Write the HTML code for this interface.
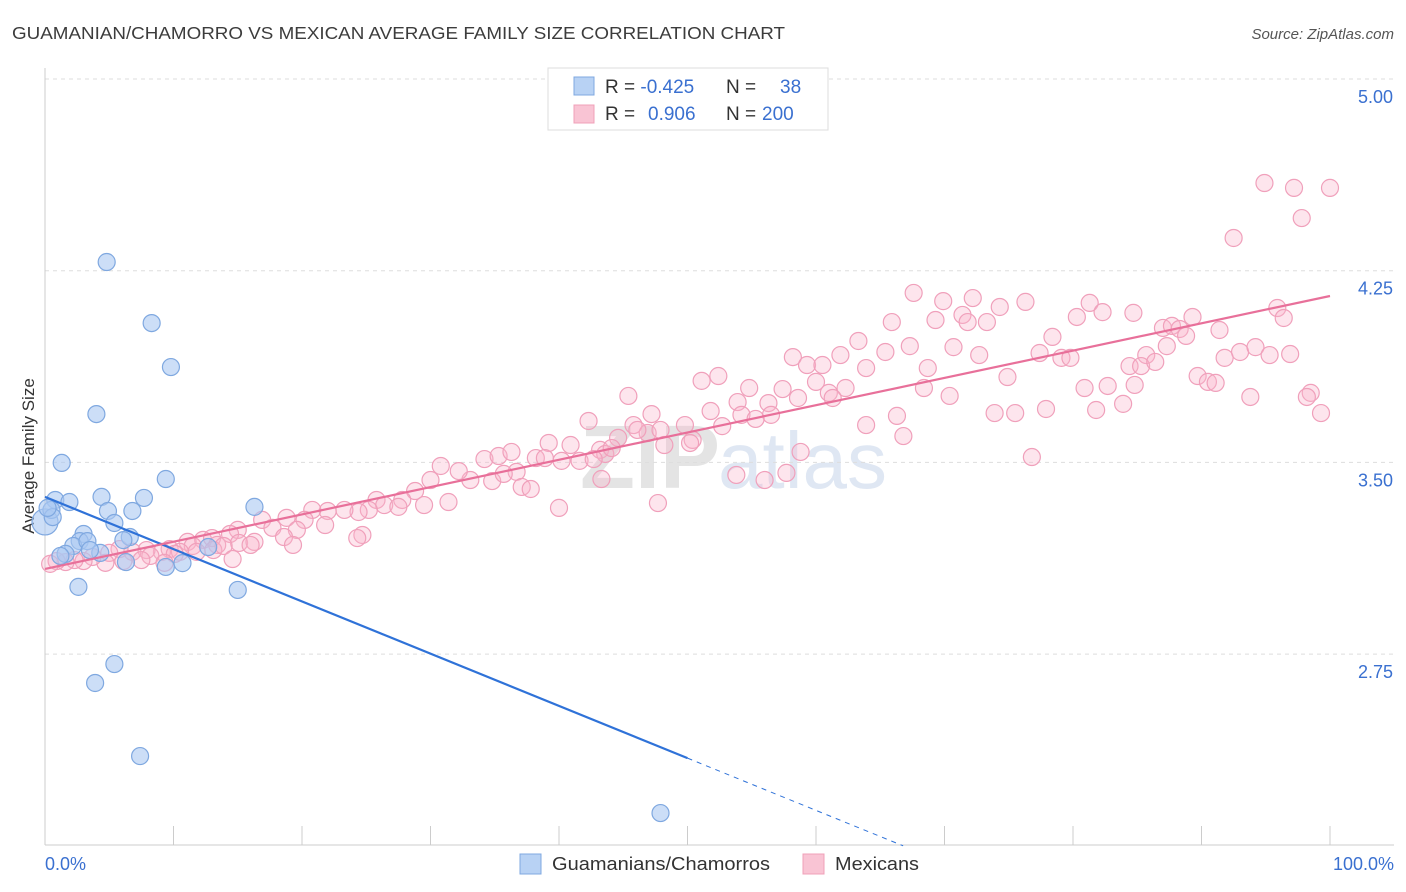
<!DOCTYPE html>
<html><head><meta charset="utf-8"><style>
body{margin:0;background:#fff;font-family:"Liberation Sans",sans-serif;}
#wrap{position:relative;width:1406px;height:892px;overflow:hidden;}
</style></head><body>
<div id="wrap">
<svg id="svg" width="1406" height="892" xmlns="http://www.w3.org/2000/svg">
<text x="12" y="39" font-size="17.5" fill="#3c3c3c" textLength="773" lengthAdjust="spacingAndGlyphs">GUAMANIAN/CHAMORRO VS MEXICAN AVERAGE FAMILY SIZE CORRELATION CHART</text>
<text x="1394" y="39" font-size="15" fill="#555" font-style="italic" text-anchor="end">Source: ZipAtlas.com</text>
<text x="34" y="456" font-size="17" fill="#333" text-anchor="middle" transform="rotate(-90 34 456)">Average Family Size</text>
<text x="720" y="488" font-size="90" fill="#e4e4e4" font-weight="bold" text-anchor="end">ZIP</text>
<text x="718" y="488" font-size="80" fill="#dfe7f3">atlas</text>
<g id="grid"></g><g id="pts"></g><g id="lines"></g>
<g>
<rect x="548" y="68" width="280" height="62" fill="#fff" stroke="#ddd"/>
<rect x="574" y="77" width="20" height="18" fill="#b8d2f4" stroke="#7fa8e0"/>
<rect x="574" y="105" width="20" height="18" fill="#f9c4d4" stroke="#f0a0b8"/>
<text x="605" y="93" font-size="19" fill="#333">R = <tspan fill="#3a70d0">-0.425</tspan><tspan x="726">N =</tspan><tspan x="780" fill="#3a70d0">38</tspan></text>
<text x="605" y="120" font-size="19" fill="#333">R = <tspan x="648" fill="#3a70d0">0.906</tspan><tspan x="726">N =</tspan><tspan x="762" fill="#3a70d0">200</tspan></text>
</g>
<g>
<rect x="520" y="854" width="21" height="20" fill="#b8d2f4" stroke="#7fa8e0"/>
<text x="552" y="870" font-size="18" fill="#333" textLength="218" lengthAdjust="spacingAndGlyphs">Guamanians/Chamorros</text>
<rect x="803" y="854" width="21" height="20" fill="#f9c4d4" stroke="#f0a0b8"/>
<text x="835" y="870" font-size="18" fill="#333" textLength="84" lengthAdjust="spacingAndGlyphs">Mexicans</text>
</g>
<text x="45" y="870" font-size="18" fill="#3a70d0">0.0%</text>
<text x="1394" y="870" font-size="18" fill="#3a70d0" text-anchor="end">100.0%</text>
</svg>
</div>
<script>
const yTicks=[5.00,4.25,3.50,2.75];
const gx=[0,4.8,8.3,9.8,4.0,1.3,9.4,0.8,1.9,4.4,7.7,16.3,0.5,4.9,6.8,0.6,5.4,3.0,6.6,6.1,2.7,2.2,3.3,1.6,4.3,12.7,6.3,10.7,9.4,2.6,15.0,5.4,3.9,7.4,47.9,0.2,3.5,1.2];
const gy=[3.267,4.284,4.045,3.873,3.689,3.498,3.435,3.353,3.345,3.365,3.361,3.326,3.314,3.310,3.310,3.286,3.263,3.220,3.208,3.196,3.192,3.173,3.192,3.142,3.146,3.169,3.110,3.106,3.091,3.013,3.001,2.711,2.637,2.351,2.128,3.322,3.157,3.134];
const mx=[94.9,97.2,100,97.8,92.5,67.6,69.9,72.2,74.3,76.3,81.3,82.3,84.7,80.3,95.9,96.4,71.4,71.8,73.3,69.3,65.9,87.0,87.7,88.3,89.3,91.4,88.8,63.3,67.3,70.7,78.4,77.4,79.1,79.8,85.7,87.3,91.8,93.0,94.2,95.3,96.9,61.9,58.2,59.3,60.5,63.9,65.4,68.7,72.7,84.4,85.3,86.4,89.7,90.5,91.1,51.1,52.4,54.8,57.4,60.0,61.0,62.3,68.4,70.4,74.9,80.9,82.7,84.8,93.8,98.5,98.2,45.4,51.8,53.9,56.3,56.5,54.2,55.3,58.6,61.3,66.3,73.9,75.5,77.9,81.8,83.9,99.3,42.3,47.2,45.8,49.8,44.6,46.9,47.9,50.4,52.7,63.9,66.8,46.1,39.2,40.9,43.2,43.6,44.1,48.2,50.2,58.8,76.8,30.8,34.2,35.3,36.3,36.7,38.2,38.9,40.2,41.6,42.7,33.1,32.2,34.8,35.7,37.1,37.8,43.3,53.8,56.0,57.7,30.0,28.8,27.8,25.8,26.4,27.5,29.5,31.4,25.2,24.4,23.3,22.0,20.8,20.2,18.8,16.9,40.0,47.7,19.6,21.8,17.7,15.0,14.4,12.3,11.1,11.5,13.0,15.1,13.4,18.6,16.3,24.7,24.3,16.0,13.1,13.9,11.8,9.7,10.5,9.1,10.1,7.9,6.8,5.8,5.0,8.2,6.1,7.5,4.7,3.7,3.0,2.3,1.6,0.9,0.4,9.3,14.6,19.3];
const my=[4.593,4.574,4.574,4.456,4.378,4.163,4.131,4.143,4.108,4.128,4.124,4.088,4.085,4.069,4.104,4.065,4.077,4.049,4.049,4.057,4.049,4.026,4.034,4.022,4.069,4.018,3.995,3.975,3.955,3.951,3.991,3.928,3.909,3.909,3.920,3.955,3.909,3.932,3.951,3.920,3.924,3.920,3.912,3.881,3.881,3.869,3.932,3.869,3.920,3.877,3.877,3.893,3.838,3.815,3.811,3.819,3.838,3.791,3.787,3.815,3.772,3.791,3.791,3.760,3.834,3.791,3.799,3.803,3.756,3.772,3.756,3.760,3.701,3.736,3.732,3.686,3.686,3.670,3.752,3.752,3.682,3.693,3.693,3.709,3.705,3.729,3.693,3.662,3.689,3.646,3.646,3.596,3.615,3.627,3.588,3.642,3.646,3.603,3.627,3.576,3.568,3.549,3.533,3.556,3.568,3.576,3.541,3.521,3.486,3.513,3.525,3.541,3.463,3.517,3.517,3.506,3.506,3.513,3.431,3.466,3.427,3.455,3.404,3.396,3.435,3.451,3.431,3.459,3.431,3.388,3.353,3.353,3.333,3.326,3.333,3.345,3.314,3.306,3.314,3.310,3.314,3.275,3.283,3.275,3.322,3.341,3.236,3.255,3.244,3.236,3.220,3.197,3.189,3.173,3.204,3.185,3.177,3.208,3.189,3.216,3.204,3.177,3.157,3.173,3.150,3.161,3.150,3.150,3.142,3.157,3.150,3.161,3.146,3.134,3.114,3.118,3.107,3.130,3.114,3.118,3.110,3.114,3.103,3.107,3.122,3.177,3.177];
const gLine=[3.365,2.343], mLine=[3.083,4.151];
const NS="http://www.w3.org/2000/svg";
const X=v=>45+v*12.85, Y=v=>79+(5-v)*255.6;
function mk(t,a,p){const e=document.createElementNS(NS,t);for(const k in a)e.setAttribute(k,a[k]);p.appendChild(e);return e;}
const grid=document.getElementById('grid');
yTicks.forEach((t,i)=>{
 const l=mk('line',{x1:45,x2:1394,y1:Y(t),y2:Y(t),stroke:'#ddd','stroke-dasharray':'4,4'},grid);
 
 
 const tx=mk('text',{x:1393,y:Y(t)+24,'font-size':18,fill:'#3a70d0','text-anchor':'end'},grid);
 tx.textContent=t.toFixed(2);
 
 
});
mk('line',{x1:45,x2:45,y1:68,y2:845,stroke:'#ccc'},grid);
mk('line',{x1:45,x2:1394,y1:845,y2:845,stroke:'#ccc'},grid);
for(let i=0;i<=10;i++){const l=mk('line',{x1:X(i*10),x2:X(i*10),y1:826,y2:845,stroke:'#ccc'},grid);
 
 }
const pts=document.getElementById('pts');
mx.forEach((v,i)=>{const c=mk('circle',{cx:X(v),cy:Y(my[i]),r:8.5,fill:'rgba(248,180,202,0.35)',stroke:'#f0a0bb','stroke-width':1.2},pts);
 
 });
gx.forEach((v,i)=>{const c=mk('circle',{cx:X(v),cy:Y(gy[i]),r:i==0?13:8.5,fill:'rgba(170,200,242,0.6)',stroke:'#7fa8e0','stroke-width':1.2},pts);
 
 });
const lines=document.getElementById('lines');
const gyAt=x=>gLine[0]+(gLine[1]-gLine[0])*x/50;
let l1=mk('line',{x1:X(0),y1:Y(gyAt(0)),x2:X(50),y2:Y(gyAt(50)),stroke:'#2f72d8','stroke-width':2.2},lines);


const xEnd=50*(2.0-gLine[0])/(gLine[1]-gLine[0]);
let l2=mk('line',{x1:X(50),y1:Y(gyAt(50)),x2:X(xEnd),y2:Y(2.0),stroke:'#2f72d8','stroke-width':1,'stroke-dasharray':'5,5'},lines);


let l3=mk('line',{x1:X(0),y1:Y(mLine[0]),x2:X(100),y2:Y(mLine[1]),stroke:'#e8709a','stroke-width':2.2},lines);


</script>
</body></html>
